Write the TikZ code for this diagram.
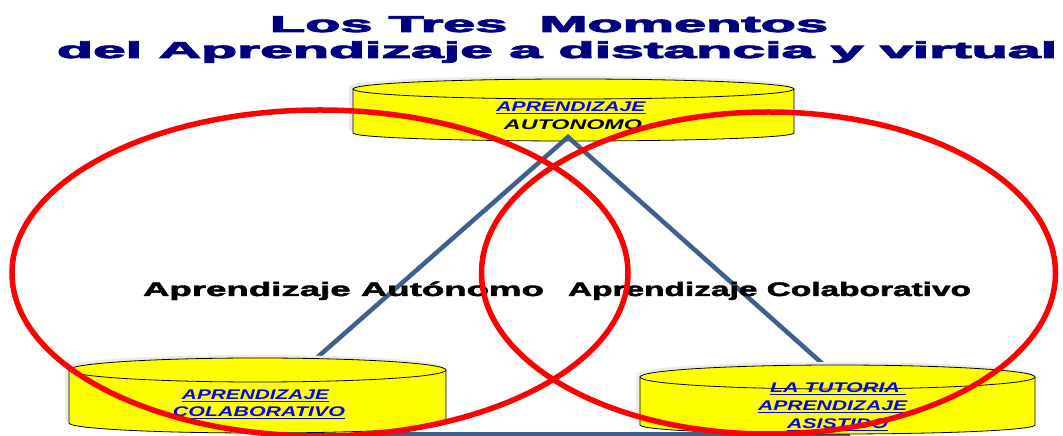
\documentclass[tikz,border=0pt]{standalone}
\usepackage{fontspec}
\setmainfont{Liberation Sans}
\newfontfamily\heavy{Liberation Sans}[BoldFeatures={FakeBold=2}]
\newfontfamily\heavier{Liberation Sans}[BoldFeatures={FakeBold=3.2}]
\usepackage{graphicx}
\definecolor{navy}{RGB}{0,0,128}
\definecolor{tri}{RGB}{62,96,140}
\definecolor{linkblue}{RGB}{0,0,255}
\definecolor{cylyel}{RGB}{255,255,0}
\newcommand\wbox[2]{\resizebox{#1}{\height}{#2}}
\newcommand\drawcyl[6]{%
  \pgfmathsetmacro\cylcx{(#1+#2)/2}\pgfmathsetmacro\cylrx{(#2-#1)/2}%
  \fill[cylshadow] ([shift={(-4,3)}]#1,#3) -- ([shift={(-4,3)}]#1,#4) arc[start angle=180,end angle=360,x radius=\cylrx,y radius=#6] -- ([shift={(-4,3)}]#2,#3) arc[start angle=0,end angle=180,x radius=\cylrx,y radius=#5] -- cycle;
  \fill[cylyel] (#1,#3) -- (#1,#4) arc[start angle=180,end angle=360,x radius=\cylrx,y radius=#6] -- (#2,#3) arc[start angle=0,end angle=180,x radius=\cylrx,y radius=#5] -- cycle;
  \draw[cylline] (#1,#3) -- (#1,#4) arc[start angle=180,end angle=360,x radius=\cylrx,y radius=#6] -- (#2,#3);
  \draw[cylline] (\cylcx,#3) ellipse[x radius=\cylrx,y radius=#5];
}
\tikzset{
  cylline/.style={draw=black, line width=0.8pt},
  cylshadow/.style={black!8},
  tribar/.style={draw=tri, line width=4.5pt, line join=miter},
  redring/.style={draw=red, line width=5.5pt},
  titletext/.style={font=\heavier\bfseries\fontsize{23}{23}\selectfont, text=navy, anchor=base, inner sep=0pt},
  midtext/.style={font=\heavy\bfseries\fontsize{19.5}{19.5}\selectfont, text=black, anchor=base, inner sep=0pt},
  cyltext/.style={font=\bfseries\itshape\fontsize{14}{14}\selectfont, text=linkblue, anchor=base, inner sep=0pt},
}
\begin{document}
\begin{tikzpicture}[x=1pt,y=1pt]
\useasboundingbox (0,0) rectangle (1063,436);
\fill[white] (0,0) rectangle (1063,436);
% title
\node[titletext] (t1) at (549,404) {\wbox{558pt}{Los Tres\ \ Momentos}};
\node[titletext] (t2) at (557,378) {\wbox{1000pt}{del Aprendizaje a distancia y virtual}};
% top cylinder
\drawcyl{353}{794}{347}{303}{10}{8}
% triangle
\coordinate (apex) at (568,299);
\coordinate (lend) at (262,30);
\coordinate (rend) at (870,30);
\coordinate (bstart) at (360,1.5);
\coordinate (bend) at (850,1.5);
\draw[tribar] (lend) -- (apex) -- (rend);
\draw[tribar] (bstart) -- (bend);
% bottom cylinders
\drawcyl{69}{446}{66}{13}{12}{10}
\drawcyl{640}{1035}{59}{11}{12}{9}
% cylinder texts
\node[cyltext] (a1) at (571,324) {\wbox{149pt}{\underline{APRENDIZAJE}}};
\node[cyltext,text=black] (a2) at (573,306) {\wbox{138pt}{AUTONOMO}};
\node[cyltext] (b1) at (255.5,36) {\wbox{147pt}{\underline{APRENDIZAJE}}};
\node[cyltext] (b2) at (259,19) {\wbox{172pt}{\underline{COLABORATIVO}}};
\node[cyltext] (c1) at (838,43) {\wbox{136pt}{\underline{LA TUTORIA\ }}};
\node[cyltext] (c2) at (835.5,25) {\wbox{155pt}{\underline{APRENDIZAJE\ }}};
\node[cyltext] (c3) at (837.5,7) {\wbox{101pt}{\underline{ASISTIDO}}};
% middle labels
\node[midtext] (la) at (343.5,140) {\wbox{401pt}{Aprendizaje Autónomo}};
\node[midtext] (lc) at (769.5,140) {\wbox{403pt}{Aprendizaje Colaborativo}};
% red rings
\draw[redring] (320,163) ellipse[x radius=308,y radius=163];
\draw[redring] (768.5,163) ellipse[x radius=287,y radius=161];
\end{tikzpicture}
\end{document}
